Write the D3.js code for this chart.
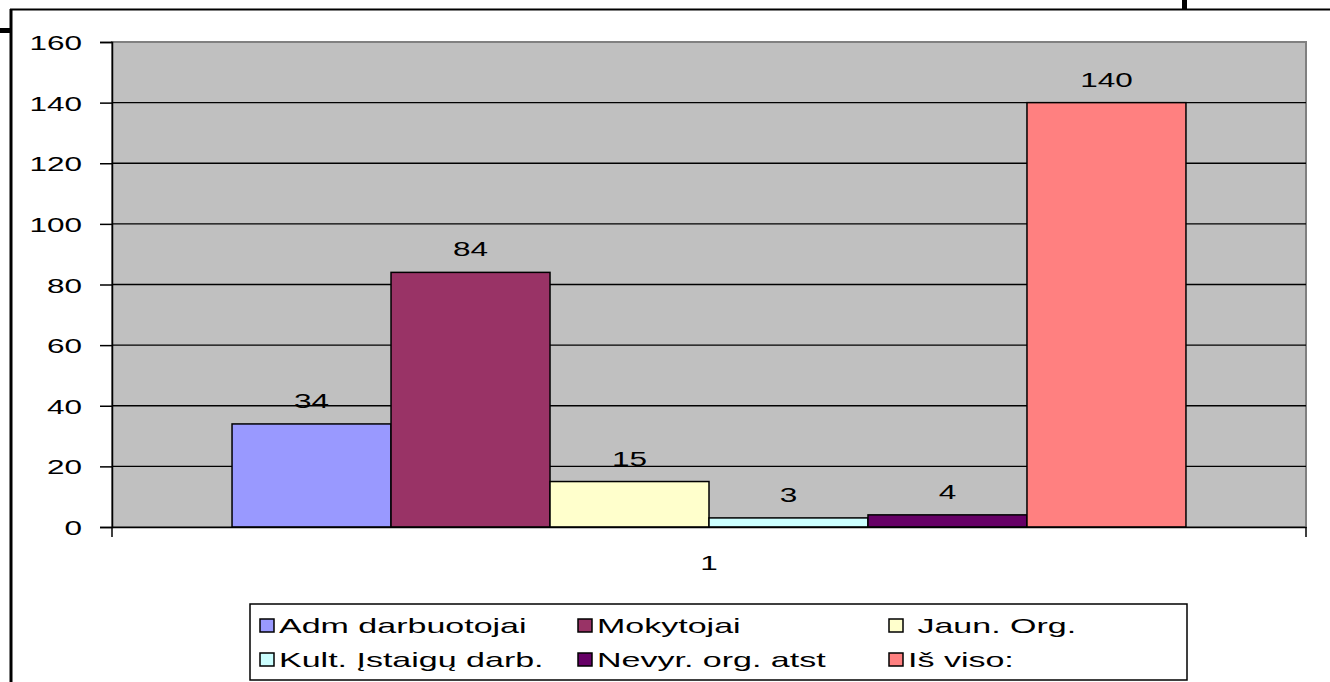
<!DOCTYPE html>
<html><head><meta charset="utf-8">
<script src="https://cdn.jsdelivr.net/npm/d3@7"></script>
<style>body{margin:0;background:#fff}svg{display:block}text{font-family:"Liberation Sans",Arial,sans-serif;fill:#000}</style>
</head><body>
<svg id="c" width="1330" height="682"></svg>
<script>
const categories = ["1"];
const seriesNames = ["Adm darbuotojai", "Mokytojai", " Jaun. Org.", "Kult. Įstaigų darb.", "Nevyr. org. atst", "Iš viso:"];
const seriesValues = [34, 84, 15, 3, 4, 140];
const seriesColors = ["#9999FF", "#993366", "#FFFFCC", "#CCFFFF", "#660066", "#FF8080"];
const yTicks = [0, 20, 40, 60, 80, 100, 120, 140, 160];

const svg = d3.select("#c");
const FS = 21;
function txt(g, x, y, s, anchor, sx) {
  return g.append("text")
    .attr("transform", `translate(${x},${y}) scale(${sx || 1.5},1)`)
    .attr("text-anchor", anchor || "start")
    .attr("font-size", FS)
    .text(s);
}

const L = 112, R = 1306, T = 42, B = 527;
const y = d3.scaleLinear().domain([0, 160]).range([B, T]);
const x0 = d3.scaleBand().domain(categories).range([L, R]).padding(0);
const x1 = d3.scaleBand().domain(seriesNames).range([0, x0.bandwidth()]).paddingInner(0).paddingOuter(0.755);

// outer frame lines
svg.append("line").attr("x1", 10).attr("x2", 1330).attr("y1", 9.5).attr("y2", 9.5).attr("stroke", "#000").attr("stroke-width", 2);
svg.append("line").attr("x1", 11).attr("x2", 11).attr("y1", 9).attr("y2", 682).attr("stroke", "#000").attr("stroke-width", 3);
svg.append("rect").attr("x", 0).attr("y", 28).attr("width", 11).attr("height", 5).attr("fill", "#000");
svg.append("rect").attr("x", 1182).attr("y", 0).attr("width", 5).attr("height", 10).attr("fill", "#000");

// plot area
svg.append("rect").attr("x", L).attr("y", T).attr("width", R - L).attr("height", B - T)
  .attr("fill", "#C0C0C0").attr("stroke", "#808080").attr("stroke-width", 2);

// gridlines
svg.append("g").selectAll("line").data(yTicks.filter(d => d > 0 && d < 160)).join("line")
  .attr("x1", L).attr("x2", R).attr("y1", d => y(d)).attr("y2", d => y(d))
  .attr("stroke", "#000").attr("stroke-width", 1.3);

// bars
const gBars = svg.append("g").attr("transform", `translate(${x0(categories[0])},0)`);
gBars.selectAll("rect").data(seriesValues).join("rect")
  .attr("x", (d, i) => x1(seriesNames[i]))
  .attr("y", d => y(d))
  .attr("width", x1.bandwidth())
  .attr("height", d => y(0) - y(d))
  .attr("fill", (d, i) => seriesColors[i])
  .attr("stroke", "#000").attr("stroke-width", 1.5);

// value labels
seriesValues.forEach((v, i) => {
  txt(svg, x0(categories[0]) + x1(seriesNames[i]) + x1.bandwidth() / 2, y(v) - 16, String(v), "middle");
});

// y axis
const yAxis = d3.axisLeft(y).tickValues(yTicks).tickSize(12).tickFormat("");
const gy = svg.append("g").attr("transform", `translate(${L},0)`).call(yAxis);
gy.selectAll("path,line").attr("stroke", "#000").attr("stroke-width", 1.5);
yTicks.forEach(t => txt(svg, 82, y(t) + 8, String(t), "end"));

// x axis
const xAxis = d3.axisBottom(x0).tickSize(0).tickFormat("");
const gx = svg.append("g").attr("transform", `translate(0,${B})`).call(xAxis);
gx.selectAll("path").attr("stroke", "#000").attr("stroke-width", 1.5);
[L, R].forEach(px => svg.append("line").attr("x1", px).attr("x2", px).attr("y1", B).attr("y2", B + 10).attr("stroke", "#000").attr("stroke-width", 1.5));
categories.forEach(c => txt(svg, x0(c) + x0.bandwidth() / 2, 570, c, "middle"));

// legend
svg.append("rect").attr("x", 250).attr("y", 604).attr("width", 937).attr("height", 76)
  .attr("fill", "#fff").attr("stroke", "#000").attr("stroke-width", 1.5);
const colX = [260, 578, 889];
const rowY = [619, 653];
seriesNames.forEach((s, i) => {
  const cx = colX[i % 3], ry = rowY[Math.floor(i / 3)];
  svg.append("rect").attr("x", cx).attr("y", ry).attr("width", 14).attr("height", 13)
    .attr("fill", seriesColors[i]).attr("stroke", "#000").attr("stroke-width", 1.5);
  txt(svg, cx + 19, ry + 14, s, "start", 1.62).style("white-space", "pre");
});
</script>
</body></html>
